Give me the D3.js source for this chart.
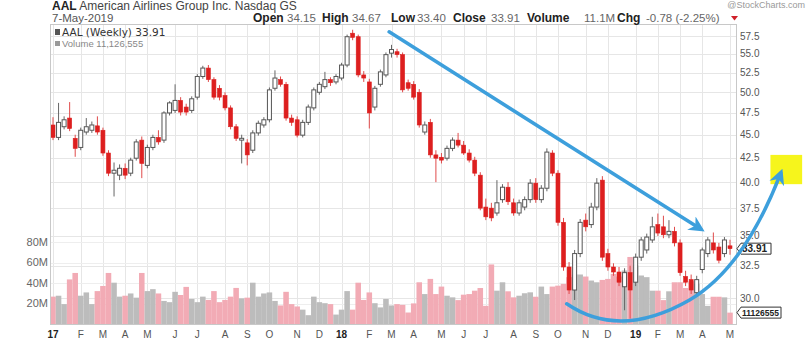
<!DOCTYPE html>
<html><head><meta charset="utf-8">
<script src="https://cdn.jsdelivr.net/npm/d3@7"></script>
<style>
body{margin:0;background:#fff;}
svg{display:block;font-family:"Liberation Sans",Arial,sans-serif;}
</style>
</head><body>
<svg id="c" width="808" height="357"></svg>
<script>
// ---- data (weekly AAL, Jan 2017 - May 2019) ----
const opens=[46.1,44.7,45.9,46.9,44.6,43.6,45.3,45.5,46.0,45.5,
43.0,40.9,40.7,41.4,40.9,42.45,44.4,41.7,43.6,44.7,
44.4,47.5,47.8,49.0,48.2,47.8,49.4,52.0,53.1,51.6,
50.5,49.6,48.1,45.9,44.4,44.1,43.3,45.2,46.1,46.7,
50.5,51.6,51.0,46.9,46.7,44.95,46.4,48.1,50.0,50.7,
51.6,51.3,51.8,53.5,57.9,57.4,52.2,51.3,48.2,51.0,
52.2,55.1,55.3,54.9,51.2,51.0,50.0,45.3,46.4,42.8,
42.55,42.45,43.5,44.4,43.85,43.0,42.25,40.7,37.6,37.5,
37.05,38.3,39.5,38.0,37.05,37.6,38.3,39.9,38.3,39.4,
43.0,40.9,36.2,32.4,30.6,33.5,36.4,36.0,37.6,40.2,
33.5,32.4,32.0,30.85,31.95,31.2,33.2,33.8,34.65,36.0,
35.8,35.1,35.4,34.4,31.65,31.4,30.4,32.2,33.5,34.4,
34.05,33.5,34.15];
const highs=[47.0,48.7,47.1,48.8,45.0,45.8,46.9,46.5,47.1,45.8,
43.3,42.0,41.8,41.9,42.5,44.5,44.8,43.9,45.0,45.5,
47.7,48.9,51.0,49.4,48.6,49.5,52.3,53.4,53.5,51.9,
50.9,50.0,48.4,46.2,45.0,44.5,45.5,46.6,47.0,50.6,
52.8,52.0,51.3,47.3,47.1,46.7,48.5,50.6,51.3,52.6,
51.9,52.3,53.8,57.7,58.4,57.7,52.7,51.7,50.8,52.9,
55.2,56.25,55.7,55.2,51.6,51.4,50.4,46.5,46.8,43.3,
43.0,43.8,44.7,45.2,44.3,43.4,42.6,41.0,38.4,38.0,
40.2,39.8,40.0,38.4,38.3,38.6,40.3,40.4,39.7,43.5,
43.3,41.2,36.6,32.8,33.8,36.5,37.0,38.0,40.4,40.6,
33.9,32.7,32.4,32.3,32.5,33.5,34.9,35.2,36.7,37.0,
36.8,36.4,35.8,34.7,32.1,31.8,31.7,34.0,34.9,35.3,
34.4,34.9,34.67];
const lows=[44.4,44.4,45.6,45.4,42.6,43.3,45.0,45.2,45.0,42.7,
40.6,38.6,40.2,40.3,40.6,42.2,40.4,41.4,43.3,43.9,
44.1,47.2,47.5,47.2,47.2,47.5,49.1,51.7,51.3,49.1,
49.0,47.8,45.6,44.3,41.9,41.7,43.0,44.9,45.8,46.4,
50.2,50.7,46.6,46.0,44.7,44.7,46.1,47.8,49.7,50.4,
50.8,51.0,51.5,53.2,56.9,51.9,51.3,45.7,47.8,50.7,
51.9,54.5,54.5,50.0,50.2,49.1,45.8,45.0,42.5,40.0,
41.9,42.2,43.2,43.6,42.8,42.0,40.6,37.3,36.4,36.3,
36.8,38.0,37.8,36.8,36.8,37.3,38.0,38.0,38.0,39.1,
40.6,35.9,32.1,30.3,29.85,33.2,35.4,35.7,37.3,32.9,
32.1,31.7,30.9,29.1,28.5,30.9,32.9,33.5,34.4,35.0,
34.8,34.8,34.1,31.7,30.9,30.3,30.1,31.9,33.2,33.5,
32.7,33.2,33.40];
const closes=[44.7,46.4,46.7,45.7,43.5,45.5,45.9,46.1,45.3,43.0,
40.9,41.2,41.4,40.7,42.25,44.2,41.9,43.6,44.7,44.2,
47.5,48.7,49.0,47.6,47.6,49.2,52.0,53.1,51.6,49.4,
49.4,48.1,45.9,44.6,44.6,42.8,45.2,46.3,46.7,50.3,
51.8,51.0,46.9,46.4,44.95,46.4,48.2,50.3,51.0,51.6,
51.2,52.0,53.5,57.4,57.3,52.2,51.8,47.5,50.5,52.6,
54.9,55.6,54.9,50.3,50.5,49.4,46.1,46.1,42.8,42.45,
42.25,43.5,44.4,43.85,43.0,42.25,40.9,37.5,36.7,36.6,
38.0,39.5,38.1,37.05,38.0,38.3,39.9,38.3,39.4,43.1,
40.9,36.2,32.4,30.6,33.5,36.2,35.8,37.6,39.9,33.2,
32.4,32.0,31.2,31.95,30.6,33.2,34.65,34.9,35.8,35.25,
35.1,35.4,34.4,31.95,31.2,30.6,31.4,33.8,34.65,33.8,
32.95,34.65,33.91];
const volumes=[26.7,27.6,19.4,43.5,49.8,27.6,30.8,19.4,32.1,37.1,
49.8,40.3,26.7,27.6,29.8,25.7,49.8,32.1,34,29.8,
22.5,21.3,31.4,28.3,36.2,24.4,21.3,26.7,23.5,32.1,
21.3,23.5,26.7,35.2,25,25.7,40.3,26.7,29.8,30.8,
22.5,18.1,31.4,19.4,17.1,14,8.6,26.7,21.3,20.3,
19.4,9.2,14,32.1,14,40.3,23.5,30.8,20.3,16.2,
24.4,18.1,19.4,18.7,11.2,20.1,40.7,29.2,44.0,29.2,
36.5,27.6,26.0,23.3,28.6,29.2,32.5,35.1,17.7,58.1,
32.5,40.7,31.9,26.0,27.6,30.0,30.9,26.6,36.5,29.2,
36.5,37.4,39.1,45.7,48.3,48.3,46.3,42.4,40.7,43.0,
44.0,48.9,46.3,52.2,65.4,57.1,47.3,45.7,32.5,32.5,
23.3,31.9,40.7,40.7,35.1,41.7,39.1,29.2,17.7,26.6,
26.6,26.0,11.1];
const priceTicks=[30,32.5,35,37.5,40,42.5,45,47.5,50,52.5,55,57.5];
const volTicks=[20,40,60,80];
const monthLabels=["17","F","M","A","M","J","J","A","S","O","N","D",
"18","F","M","A","M","J","J","A","S","O","N","D",
"19","F","M","A","M"];
// annotations in (week index, price)
const trendLine=[[60.7,58.1],[116.8,35.6]];
const curvePts=[[92.6,29.57],[102.2,27.03],[114.8,29.85],[124.7,32.32],[131.2,40.9]];
const highlightBox=[[129.4,42.8],[135.1,39.8]];

// ---- layout ----
const L=50,R=736,T=24,B=324;
const svg=d3.select("#c");
const start=new Date(2017,0,2);
const dates=closes.map((_,i)=>d3.timeDay.offset(start,7*i));
const x=d3.scaleTime().domain([dates[0],dates[dates.length-1]]).range([53,730]);
const xi=i=>x(d3.timeDay.offset(start,7*i));
const y=d3.scaleLog().domain([30,57.5]).range([298,36]);
const yv=d3.scaleLinear().domain([0,80]).range([B,242]);
const monthTicks=monthLabels.map((_,k)=>d3.timeMonday.ceil(new Date(2017,k,1)));

// grid
const g=svg.append("g");
g.append("g").selectAll("line").data(monthTicks).join("line")
 .attr("x1",d=>Math.round(x(d))+0.5).attr("x2",d=>Math.round(x(d))+0.5).attr("y1",T).attr("y2",B)
 .attr("stroke","#e6e6e6").attr("stroke-width",1);
g.append("g").selectAll("line").data(priceTicks).join("line")
 .attr("x1",L).attr("x2",R).attr("y1",d=>Math.round(y(d))+0.5).attr("y2",d=>Math.round(y(d))+0.5)
 .attr("stroke","#e6e6e6");
g.append("g").selectAll("line").data(volTicks).join("line")
 .attr("x1",L).attr("x2",R).attr("y1",d=>Math.round(yv(d))+0.5).attr("y2",d=>Math.round(yv(d))+0.5)
 .attr("stroke","#eeeeee");

// volume
const bw=5.55;
svg.append("g").selectAll("rect").data(volumes).join("rect")
 .attr("x",(d,i)=>xi(i)-bw/2).attr("width",bw)
 .attr("y",d=>yv(d)).attr("height",d=>B-yv(d))
 .attr("fill",(d,i)=>closes[i]<opens[i]?"#f2abb5":"#bcbcbc");

// candles
const cg=svg.append("g");
closes.forEach((c,i)=>{
  const o=opens[i],h=highs[i],l=lows[i],cx=xi(i);
  const down=c<o;
  const col=down?"#dd1f1f":"#555";
  cg.append("line").attr("x1",cx).attr("x2",cx).attr("y1",y(h)).attr("y2",y(l))
    .attr("stroke",down?"#e04a4a":"#666").attr("stroke-width",1);
  const top=y(Math.max(o,c)),bot=y(Math.min(o,c));
  cg.append("rect").attr("x",cx-2).attr("width",4).attr("y",top).attr("height",Math.max(1,bot-top))
    .attr("fill",down?"#dd1f1f":"#fff").attr("stroke",col).attr("stroke-width",down?0.6:1);
});

// frame
svg.append("rect").attr("x",L+0.5).attr("y",T+0.5).attr("width",R-L).attr("height",B-T)
 .attr("fill","none").attr("stroke","#c8c8c8");

// axes labels
svg.append("g").selectAll("text").data(priceTicks).join("text")
 .attr("x",740).attr("y",d=>y(d)).attr("dy","0.35em").attr("font-size",10).attr("fill","#555")
 .text(d=>d.toFixed(1));
svg.append("g").selectAll("text").data(volTicks).join("text")
 .attr("x",48).attr("y",d=>yv(d)).attr("dy","0.35em").attr("text-anchor","end")
 .attr("font-size",11).attr("fill","#666").text(d=>d+"M");
svg.append("g").selectAll("text").data(monthTicks).join("text")
 .attr("x",d=>x(d)).attr("y",338).attr("text-anchor","middle").attr("font-size",10)
 .attr("font-weight",(d,k)=>monthLabels[k].length>1?"bold":"normal")
 .attr("fill",(d,k)=>monthLabels[k].length>1?"#222":"#555")
 .text((d,k)=>monthLabels[k]);

// last value tags
function tag(yy,txt,w,fs){
  const t=svg.append("g");
  t.append("path").attr("d",`M737,${yy} L741,${yy-5.5} L${741+w},${yy-5.5} L${741+w},${yy+5.5} L741,${yy+5.5} Z`)
   .attr("fill","#fff").attr("stroke","#333").attr("stroke-width",1);
  t.append("text").attr("x",742).attr("y",yy).attr("dy","0.35em").attr("font-size",fs)
   .attr("font-weight","bold").attr("fill","#222").text(txt);
}
tag(y(closes[closes.length-1]),closes[closes.length-1].toFixed(2),30,10);
tag(yv(volumes[volumes.length-1]),"11126555",40,8.5);

// header
svg.append("text").attr("x",52).attr("y",9.5).attr("font-size",12).attr("fill","#444")
 .html('<tspan font-weight="bold" fill="#222">AAL</tspan> American Airlines Group Inc. Nasdaq GS');
svg.append("text").attr("x",805).attr("y",8).attr("text-anchor","end").attr("font-size",9).attr("fill","#999").text("@StockCharts.com");
svg.append("text").attr("x",52).attr("y",22).attr("font-size",11.5).attr("fill","#555").text("7-May-2019");
const hdr=[["Open",253,1],["34.15",287,0],["High",322,1],["34.67",352,0],["Low",391,1],["33.40",417,0],
["Close",453,1],["33.91",491,0],["Volume",527,1],["11.1M",584,0],["Chg",617,1],["-0.78 (-2.25%)",646,0]];
svg.append("g").selectAll("text").data(hdr).join("text")
 .attr("x",d=>d[1]).attr("y",22).attr("font-size",d=>d[2]?12:11.5)
 .attr("font-weight",d=>d[2]?"bold":"normal").attr("fill",d=>d[2]?"#222":"#666").text(d=>d[0]);
svg.append("path").attr("d","M731,16 L738,16 L734.5,20.5 Z").attr("fill","#d0202a");
// legend
svg.append("rect").attr("x",55).attr("y",29).attr("width",5).attr("height",6).attr("fill","#555");
svg.append("text").attr("x",62).attr("y",35.5).attr("font-family","DejaVu Sans").attr("font-size",10.5).attr("fill","#333").text("AAL (Weekly) 33.91");
svg.append("rect").attr("x",55).attr("y",41).attr("width",5).attr("height",5).attr("fill","#999");
svg.append("text").attr("x",62).attr("y",47).attr("font-size",9.5).attr("fill","#888").text("Volume 11,126,555");

// annotations
const P=p=>[xi(p[0]),y(p[1])];
const h0=P(highlightBox[0]),h1=P(highlightBox[1]);
svg.append("rect").attr("x",h0[0]).attr("y",h0[1]).attr("width",h1[0]-h0[0]).attr("height",h1[1]-h0[1]).attr("fill","#f6f51c");
const defs=svg.append("defs");
defs.append("marker").attr("id","ah").attr("viewBox","0 0 10 10").attr("refX",7).attr("refY",5)
 .attr("markerWidth",4.5).attr("markerHeight",4.5).attr("orient","auto")
 .append("path").attr("d","M0,0 L10,5 L0,10 L3,5 Z").attr("fill","#3d9fdc");
const a=P(trendLine[0]),b=P(trendLine[1]);
svg.append("line").attr("x1",a[0]).attr("y1",a[1]).attr("x2",b[0]).attr("y2",b[1])
 .attr("stroke","#3d9fdc").attr("stroke-width",3.5).attr("stroke-linecap","round").attr("marker-end","url(#ah)");
const cp=curvePts.map(P);
svg.append("path").attr("d",`M${cp[0]} Q${cp[1]} ${cp[2]} Q${cp[3]} ${cp[4]}`)
 .attr("fill","none").attr("stroke","#3d9fdc").attr("stroke-width",3.5).attr("stroke-linecap","round").attr("marker-end","url(#ah)");
</script>
</body></html>
